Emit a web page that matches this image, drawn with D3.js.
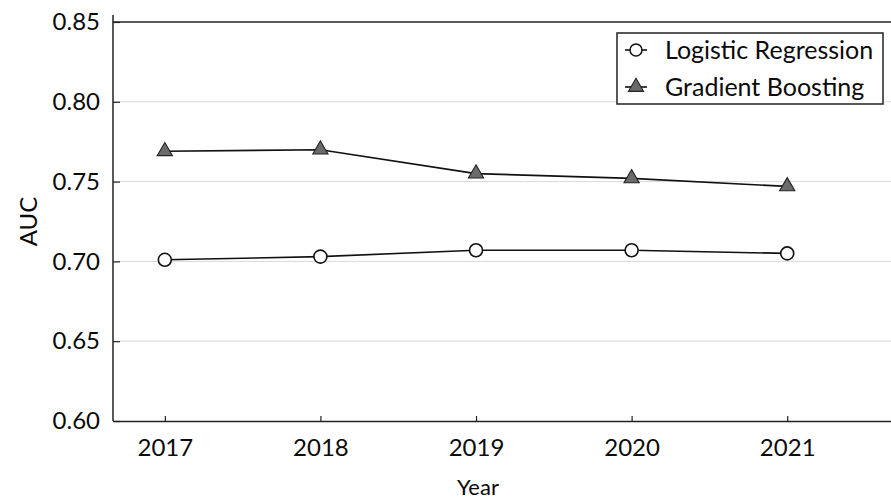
<!DOCTYPE html>
<html>
<head>
<meta charset="utf-8">
<script src="https://cdn.jsdelivr.net/npm/d3@7"></script>
<style>
  html, body { margin: 0; padding: 0; background: #fff; }
  svg { display: block; }
  text { font-family: Lato, "Open Sans", sans-serif; fill: #0a0a0a; }
</style>
</head>
<body>
<svg id="chart" width="891" height="501"></svg>
<script>
// AUC by year for two models
const years = [2017, 2018, 2019, 2020, 2021];
const logisticAUC = [0.701, 0.703, 0.707, 0.707, 0.705];
const boostingAUC = [0.769, 0.770, 0.755, 0.752, 0.747];
const yTicks = [0.60, 0.65, 0.70, 0.75, 0.80, 0.85];
const seriesNames = ["Logistic Regression", "Gradient Boosting"];

const svg = d3.select("#chart");
const W = 891, H = 501;
const plotLeft = 113, plotTop = 22, plotBottom = 421;

const x = d3.scaleLinear().domain([2016.667, 2021.667]).range([plotLeft, W]);
const y = d3.scaleLinear().domain([0.60, 0.85]).range([plotBottom, plotTop]);

// horizontal gridlines
svg.append("g").selectAll("line")
  .data(yTicks.slice(1, -1))
  .join("line")
  .attr("x1", plotLeft).attr("x2", W)
  .attr("y1", d => y(d)).attr("y2", d => y(d))
  .attr("stroke", "#d9d9d9").attr("stroke-width", 1);

// top frame line
svg.append("line")
  .attr("x1", plotLeft).attr("x2", W)
  .attr("y1", y(0.85)).attr("y2", y(0.85))
  .attr("stroke", "#222").attr("stroke-width", 1.5);

// y axis
const yAxis = d3.axisLeft(y).tickValues(yTicks).tickFormat(d3.format(".2f"))
  .tickSizeInner(-7).tickSizeOuter(0).tickPadding(13);
const gy = svg.append("g").attr("transform", `translate(${plotLeft},0)`).call(yAxis);
gy.select(".domain").attr("d", `M0,${plotTop - 7}V${plotBottom}`).attr("stroke", "#222").attr("stroke-width", 1.5);
gy.selectAll(".tick line").attr("stroke", "#222").attr("stroke-width", 1.2);
gy.selectAll(".tick text").style("font-size", "24px").attr("fill", "#0a0a0a");

// x axis
const xAxis = d3.axisBottom(x).tickValues(years).tickFormat(d3.format("d"))
  .tickSizeInner(-5).tickSizeOuter(0).tickPadding(18);
const gx = svg.append("g").attr("transform", `translate(0,${plotBottom})`).call(xAxis);
gx.select(".domain").attr("stroke", "#222").attr("stroke-width", 1.5);
gx.selectAll(".tick line").attr("stroke", "#222").attr("stroke-width", 1.2);
gx.selectAll(".tick text").style("font-size", "24px").attr("fill", "#0a0a0a");

// axis titles
svg.append("text")
  .attr("transform", `translate(37,${(plotTop + plotBottom) / 2}) rotate(-90)`)
  .attr("text-anchor", "middle")
  .style("font-size", "24px")
  .text("AUC");
svg.append("text")
  .attr("x", 478).attr("y", 495)
  .attr("text-anchor", "middle")
  .style("font-size", "22px")
  .text("Year");

const line = d3.line().x((d, i) => x(years[i])).y(d => y(d));
const tri = d3.symbol().type(d3.symbolTriangle).size(100);

// Gradient Boosting series
svg.append("path").datum(boostingAUC).attr("d", line)
  .attr("fill", "none").attr("stroke", "#111").attr("stroke-width", 1.6);
svg.append("g").selectAll("path")
  .data(boostingAUC).join("path")
  .attr("d", tri)
  .attr("transform", (d, i) => `translate(${x(years[i])},${y(d)})`)
  .attr("fill", "#6b6b6b").attr("stroke", "#222").attr("stroke-width", 1.1);

// Logistic Regression series
svg.append("path").datum(logisticAUC).attr("d", line)
  .attr("fill", "none").attr("stroke", "#111").attr("stroke-width", 1.6);
svg.append("g").selectAll("circle")
  .data(logisticAUC).join("circle")
  .attr("cx", (d, i) => x(years[i])).attr("cy", d => y(d))
  .attr("r", 6.5)
  .attr("fill", "#fff").attr("stroke", "#111").attr("stroke-width", 1.6);

// legend
const lg = svg.append("g").attr("transform", "translate(617,33)");
lg.append("rect").attr("width", 266).attr("height", 71)
  .attr("fill", "#fff").attr("stroke", "#222").attr("stroke-width", 1.5);
seriesNames.forEach((name, i) => {
  const cy = 17 + i * 37;
  lg.append("line").attr("x1", 8).attr("x2", 30).attr("y1", cy).attr("y2", cy)
    .attr("stroke", "#111").attr("stroke-width", 1.6);
  if (i === 0) {
    lg.append("circle").attr("cx", 19).attr("cy", cy).attr("r", 6)
      .attr("fill", "#fff").attr("stroke", "#111").attr("stroke-width", 1.5);
  } else {
    lg.append("path").attr("d", tri).attr("transform", `translate(19,${cy})`)
      .attr("fill", "#6b6b6b").attr("stroke", "#222").attr("stroke-width", 1.1);
  }
  lg.append("text").attr("x", 48).attr("y", cy + 9)
    .style("font-size", "25px").text(name);
});
</script>
</body>
</html>
